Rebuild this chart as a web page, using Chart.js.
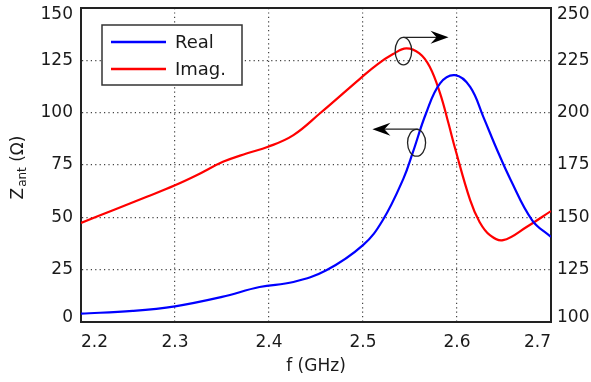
<!DOCTYPE html>
<html>
<head>
<meta charset="utf-8">
<script src="https://cdn.jsdelivr.net/npm/chart.js@4/dist/chart.umd.min.js"></script>
<style>
  html, body { margin: 0; padding: 0; background: #fff; }
</style>
</head>
<body>
<canvas id="chart" width="591" height="382"></canvas>
<script>
/* ---------------------------------------------------------------- data */
// Real part, read against the left axis (Ohm)
var realFreq = [2.2, 2.255, 2.3, 2.35, 2.39, 2.426, 2.461, 2.5, 2.521, 2.543, 2.553, 2.567, 2.582, 2.598, 2.614, 2.628, 2.642, 2.657, 2.68, 2.7];
var realVals = [4.0, 5.3, 7.5, 12.0, 16.7, 19.1, 24.7, 36.7, 48.6, 68.5, 81.0, 99.6, 114.0, 117.9, 112.3, 98.0, 82.9, 68.0, 48.6, 40.6];

// Imaginary part, read against the right axis (Ohm)
var imagFreq = [2.2, 2.234, 2.27, 2.3, 2.323, 2.351, 2.376, 2.399, 2.426, 2.454, 2.497, 2.515, 2.532, 2.546, 2.56, 2.571, 2.582, 2.591, 2.598, 2.614, 2.624, 2.635, 2.649, 2.674, 2.7];
var imagVals = [147.3, 153.4, 159.8, 165.3, 170.1, 176.5, 180.5, 183.7, 189.3, 199.6, 216.3, 223.0, 228.0, 230.7, 228.3, 221.9, 209.2, 194.8, 182.9, 158.2, 147.8, 141.5, 139.1, 145.4, 153.0];

var seriesNames = ['Real', 'Imag.'];
var xTicks = [2.2, 2.3, 2.4, 2.5, 2.6, 2.7];
var leftTicks = [0, 25, 50, 75, 100, 125, 150];
var rightTicks = [100, 125, 150, 175, 200, 225, 250];

/* ---------------------------------------------------------- styling */
var FONT = 'DejaVu Sans';
var INK = '#1a1a1a';

function toPoints(xs, ys) {
    return xs.map(function (x, i) { return { x: x, y: ys[i] }; });
}

// annotation marks, in data units of x / left axis
var marks = [
    { ellipse: [2.543, 129.4, 0.0088, 6.6], arrow: [2.543, 136.0, 2.591, 136.0] },
    { ellipse: [2.557, 85.6, 0.0096, 6.4], arrow: [2.559, 92.1, 2.510, 92.1] }
];

/* ---------------------------------------------------------- plugins */
var framePlugin = {
    id: 'frame',
    beforeDraw: function (chart) {
        // keep the end labels of both value axes inside the box
        ['y', 'y1'].forEach(function (id) {
            var s = chart.scales[id];
            var items = s.getLabelItems();
            items.forEach(function (it, i) {
                if (i === 0) it.options.translation[1] = s.bottom - 4.5;
                if (i === items.length - 1) it.options.translation[1] = s.top + 7;
            });
        });
    },
    afterDraw: function (chart) {
        var ctx = chart.ctx, a = chart.chartArea;
        var xs = chart.scales.x, ys = chart.scales.y;

        // top edge of the box
        ctx.save();
        ctx.strokeStyle = '#222';
        ctx.lineWidth = 2;
        ctx.beginPath();
        ctx.moveTo(a.left - 1, a.top);
        ctx.lineTo(a.right + 1, a.top);
        ctx.stroke();

        // ellipses and arrows
        ctx.strokeStyle = '#222';
        ctx.fillStyle = '#000';
        ctx.lineWidth = 1.3;
        marks.forEach(function (m) {
            var e = m.ellipse;
            var cx = xs.getPixelForValue(e[0]), cy = ys.getPixelForValue(e[1]);
            var rx = xs.getPixelForValue(e[0] + e[2]) - cx;
            var ry = cy - ys.getPixelForValue(e[1] + e[3]);
            ctx.beginPath();
            ctx.ellipse(cx, cy, rx, ry, 0, 0, Math.PI * 2);
            ctx.stroke();

            var r = m.arrow;
            var x0 = xs.getPixelForValue(r[0]), y0 = ys.getPixelForValue(r[1]);
            var x1 = xs.getPixelForValue(r[2]), y1 = ys.getPixelForValue(r[3]);
            var dir = x1 > x0 ? 1 : -1;
            ctx.beginPath();
            ctx.moveTo(x0, y0);
            ctx.lineTo(x1 - dir * 10, y1);
            ctx.stroke();
            ctx.beginPath();
            ctx.moveTo(x1, y1);
            ctx.lineTo(x1 - dir * 18, y1 - 6.5);
            ctx.lineTo(x1 - dir * 12, y1);
            ctx.lineTo(x1 - dir * 18, y1 + 6.5);
            ctx.closePath();
            ctx.fill();
        });

        // legend box inside the plot
        var bx = a.left + 21, by = a.top + 17, bw = 140, bh = 60;
        ctx.fillStyle = '#fff';
        ctx.fillRect(bx, by, bw, bh);
        ctx.strokeStyle = '#333';
        ctx.lineWidth = 1.5;
        ctx.strokeRect(bx, by, bw, bh);
        ctx.font = '18px "' + FONT + '"';
        ctx.textBaseline = 'middle';
        chart.data.datasets.forEach(function (ds, i) {
            var ly = by + 17 + i * 27;
            ctx.strokeStyle = ds.borderColor;
            ctx.lineWidth = 2.4;
            ctx.beginPath();
            ctx.moveTo(bx + 9, ly);
            ctx.lineTo(bx + 64, ly);
            ctx.stroke();
            ctx.fillStyle = INK;
            ctx.fillText(ds.label, bx + 73, ly + 1);
        });

        // left axis title with subscript
        var midY = (a.top + a.bottom) / 2 + 3;
        ctx.translate(22, midY);
        ctx.rotate(-Math.PI / 2);
        var big = '17px "' + FONT + '"', small = '12px "' + FONT + '"';
        ctx.font = big;  var w1 = ctx.measureText('Z').width;
        ctx.font = small; var w2 = ctx.measureText('ant').width;
        ctx.font = big;  var w3 = ctx.measureText(' (\u03A9)').width;
        var sx = -(w1 + w2 + w3) / 2;
        ctx.fillStyle = INK;
        ctx.textBaseline = 'alphabetic';
        ctx.textAlign = 'left';
        ctx.font = big;  ctx.fillText('Z', sx, 1);
        ctx.font = small; ctx.fillText('ant', sx + w1 + 1, 4);
        ctx.font = big;  ctx.fillText(' (\u03A9)', sx + w1 + w2 + 1, 1);
        ctx.restore();
    }
};

/* ------------------------------------------------------------ chart */
var tickFont = { family: FONT, size: 17 };
var gridStyle = { color: '#444', lineWidth: 1.2, drawTicks: false };
var borderStyle = { color: '#222', width: 2, dash: [1.2, 3.2] };

new Chart(document.getElementById('chart').getContext('2d'), {
    type: 'scatter',
    data: {
        datasets: [{
            label: seriesNames[0],
            data: toPoints(realFreq, realVals),
            yAxisID: 'y',
            showLine: true,
            borderColor: '#0000ff',
            borderWidth: 2.2,
            pointRadius: 0,
            tension: 0.4
        }, {
            label: seriesNames[1],
            data: toPoints(imagFreq, imagVals),
            yAxisID: 'y1',
            showLine: true,
            borderColor: '#ff0000',
            borderWidth: 2.2,
            pointRadius: 0,
            tension: 0.4
        }]
    },
    options: {
        responsive: false,
        devicePixelRatio: 1,
        animation: false,
        layout: { padding: { top: 8, left: 0, right: 0, bottom: 0 } },
        plugins: { legend: { display: false }, tooltip: { enabled: false } },
        scales: {
            x: {
                type: 'linear',
                min: xTicks[0],
                max: xTicks[xTicks.length - 1],
                afterBuildTicks: function (s) { s.ticks = xTicks.map(function (v) { return { value: v }; }); },
                afterFit: function (s) { s.height = 60; s.paddingLeft = 0; s.paddingRight = 0; },
                ticks: { font: tickFont, color: INK, align: 'inner', padding: 10,
                         callback: function (v) { return v.toFixed(1); } },
                grid: gridStyle,
                border: borderStyle,
                title: { display: true, text: 'f (GHz)', color: INK,
                         font: { family: FONT, size: 17 }, padding: { top: 0, bottom: 5 } }
            },
            y: {
                position: 'left',
                min: leftTicks[0],
                max: leftTicks[leftTicks.length - 1],
                afterBuildTicks: function (s) { s.ticks = leftTicks.map(function (v) { return { value: v }; }); },
                afterFit: function (s) { s.width = 81; s.paddingTop = 0; s.paddingBottom = 0; },
                ticks: { font: tickFont, color: INK, padding: 8 },
                grid: gridStyle,
                border: borderStyle
            },
            y1: {
                position: 'right',
                min: rightTicks[0],
                max: rightTicks[rightTicks.length - 1],
                afterBuildTicks: function (s) { s.ticks = rightTicks.map(function (v) { return { value: v }; }); },
                afterFit: function (s) { s.width = 40; s.paddingTop = 0; s.paddingBottom = 0; },
                ticks: { font: tickFont, color: INK, padding: 6 },
                grid: { display: false, drawTicks: false },
                border: { color: '#222', width: 2 }
            }
        }
    },
    plugins: [framePlugin]
});
</script>
</body>
</html>
